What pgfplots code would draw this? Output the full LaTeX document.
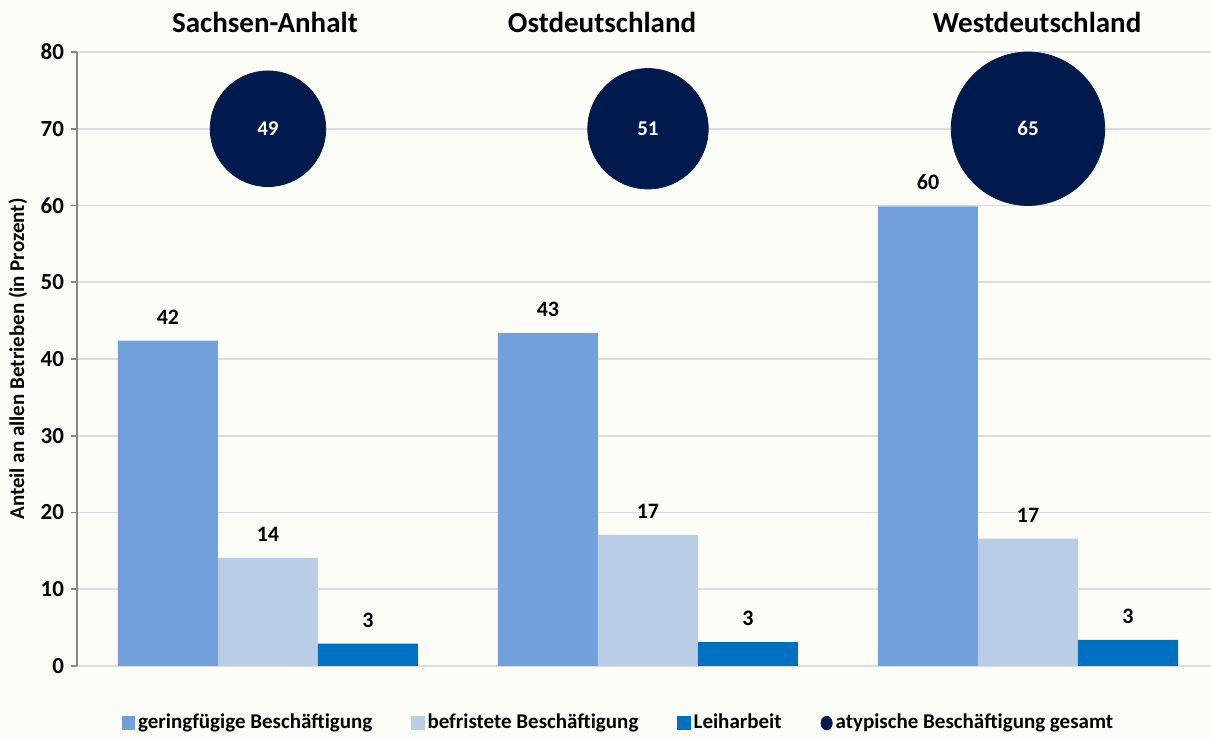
\documentclass[border=0pt]{standalone}
\usepackage{fontspec}
\setmainfont{Carlito}
\usepackage{pgfplots}
\pgfplotsset{compat=1.18}
\usepackage{pgfplotstable}
\usetikzlibrary{backgrounds,calc}

\definecolor{gering}{HTML}{71A0DA}
\definecolor{befrist}{HTML}{BACDE6}
\definecolor{leih}{HTML}{0070C0}
\definecolor{bubble}{HTML}{001A4D}
\definecolor{bgcol}{HTML}{FDFDF8}
\definecolor{gridcol}{HTML}{DCDCDC}
\definecolor{axcol}{HTML}{868686}

% group 0 = Sachsen-Anhalt, 1 = Ostdeutschland, 2 = Westdeutschland
\pgfplotstableread{
x gering befrist leih
0 42.4 14.1 2.9
1 43.4 17.1 3.1
2 59.9 16.6 3.4
}\bars

\pgfplotsset{
  barlab/.style={
    point meta=y,
    nodes near coords={\pgfmathprintnumber[fixed,precision=0]{\pgfplotspointmeta}},
    every node near coord/.append style={font=\fontsize{11}{13}\selectfont\bfseries,
      text=black, inner sep=0pt, anchor=south, yshift=8pt, xshift=#1},
  },
  bubble/.style={only marks, mark=*, mark size=#1, mark options={draw=bubble, fill=bubble},
    point meta=explicit, nodes near coords,
    every node near coord/.append style={font=\fontsize{10.5}{12}\selectfont\bfseries,
      text=white, anchor=center, inner sep=0pt}},
}

\begin{document}
\begin{tikzpicture}
\begin{axis}[
  scale only axis, width=567pt, height=307pt,
  xmin=-0.5026, xmax=2.4816, ymin=0, ymax=80,
  ytick={0,10,...,80}, xtick=\empty,
  axis x line*=bottom, axis y line*=left,
  x axis line style={gridcol, line width=0.8pt, -},
  y axis line style={axcol, line width=0.8pt, -},
  ytick style={axcol, line width=0.8pt},
  major tick length=3pt, tick align=outside,
  ymajorgrids, major grid style={gridcol, line width=0.8pt},
  tick label style={font=\fontsize{11.5}{13}\selectfont\bfseries},
  /pgf/number format/assume math mode=true,
  every axis y label/.style={at={(rel axis cs:-0.052,0.5)}, rotate=90, anchor=center},
  ylabel={Anteil an allen Betrieben (in Prozent)},
  ylabel style={font=\fontsize{10.5}{12}\selectfont\bfseries},
  clip=false,
  legend columns=4,
  legend cell align=left,
  legend style={at={(0.478,-0.093)}, anchor=center, draw=none, fill=none,
    font=\fontsize{10.5}{12}\selectfont\bfseries,
    /tikz/every even column/.append style={column sep=18pt},
    nodes={inner sep=1.5pt}},
]
\addplot[ybar, bar width=50pt, bar shift=-50pt, fill=gering, draw=none, barlab=-50pt,
  legend image code/.code={\fill[gering] (0pt,-3.3pt) rectangle (6.6pt,3.3pt);}]
  table[x=x, y=gering] {\bars};
\addlegendentry{geringfügige Beschäftigung}
\addplot[ybar, bar width=50pt, bar shift=0pt, fill=befrist, draw=none, barlab=0pt,
  legend image code/.code={\fill[befrist] (0pt,-3.3pt) rectangle (6.6pt,3.3pt);}]
  table[x=x, y=befrist] {\bars};
\addlegendentry{befristete Beschäftigung}
\addplot[ybar, bar width=50pt, bar shift=50pt, fill=leih, draw=none, barlab=50pt,
  legend image code/.code={\fill[leih] (0pt,-3.3pt) rectangle (6.6pt,3.3pt);}]
  table[x=x, y=leih] {\bars};
\addlegendentry{Leiharbeit}
% bubble radius proportional to the value
\addplot[bubble=28.9pt,
  legend image code/.code={\fill[bubble] (3pt,0pt) ellipse (2.8pt and 3.4pt);}]
  coordinates {(0,70) [49]};
\addlegendentry{atypische Beschäftigung gesamt}
\addplot[bubble=30.1pt, forget plot] coordinates {(1,70) [51]};
\addplot[bubble=38.35pt, forget plot] coordinates {(2,70) [65]};

\node[font=\fontsize{14.5}{17}\selectfont\bfseries] at (axis cs:-0.008,83.9) {Sachsen-Anhalt};
\node[font=\fontsize{14.5}{17}\selectfont\bfseries] at (axis cs:0.879,83.9) {Ostdeutschland};
\node[font=\fontsize{14.5}{17}\selectfont\bfseries] at (axis cs:2.024,83.9) {Westdeutschland};

\coordinate (SW) at (rel axis cs:0,0);
\coordinate (NE) at (rel axis cs:1,1);
\end{axis}
\begin{pgfonlayer}{background}
\fill[bgcol] ($(SW)+(-38.5pt,-36pt)$) rectangle ($(NE)+(0pt,26pt)$);
\end{pgfonlayer}
\pgfresetboundingbox
\path[use as bounding box] ($(SW)+(-38.5pt,-36pt)$) rectangle ($(NE)+(0pt,26pt)$);
\end{tikzpicture}
\end{document}
